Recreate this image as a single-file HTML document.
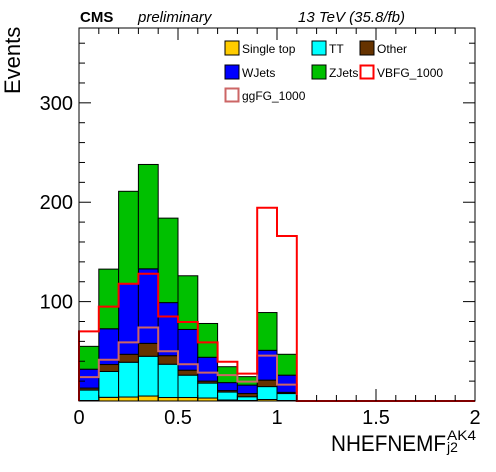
<!DOCTYPE html>
<html><head><meta charset="utf-8"><style>
html,body{margin:0;padding:0;background:#fff;}
svg{display:block;font-family:"Liberation Sans",Arial,sans-serif;}
</style></head><body>
<svg id="chart" width="496" height="472">
<g id="bars"></g>
<g id="lines"></g>
<rect x="79" y="28" width="396" height="373" fill="none" stroke="#000" stroke-width="1"/>
<g id="ticks"></g>
<text x="80" y="22" font-size="15" font-weight="bold">CMS</text>
<text x="138" y="22" font-size="15" font-style="italic">preliminary</text>
<text x="298" y="22" font-size="15" font-style="italic">13 TeV (35.8/fb)</text>
<text transform="translate(20,94) rotate(-90)" font-size="22">Events</text>
<g>
<text x="331" y="451" font-size="22" textLength="115" lengthAdjust="spacingAndGlyphs">NHEFNEMF</text>
<text x="447" y="440" font-size="14" textLength="29" lengthAdjust="spacingAndGlyphs">AK4</text>
<text x="447" y="452" font-size="14">j2</text>
</g>
<g id="legend"></g>
</svg>
<script>
const binEdges = [0,0.1,0.2,0.3,0.4,0.5,0.6,0.7,0.8,0.9,1.0,1.1,1.2,1.3,1.4,1.5,1.6,1.7,1.8,1.9,2.0];
const singleTop = [0.5,3.7,4,5,3.5,3.5,3,1,0.5,1.5,0.5,0,0,0,0,0,0,0,0,0];
const ttbar = [10.5,26,35,40,33.5,22.5,15,8,3.8,13,7,0,0,0,0,0,0,0,0,0];
const other = [2,7,8,13,8.6,5,2,1.5,3.2,6.5,1.2,0,0,0,0,0,0,0,0,0];
const wjets = [19,36,71,75,53.4,41,24,8,8.5,30,17.3,0,0,0,0,0,0,0,0,0];
const zjets = [23,60,93,105,85,54,34,16,8.5,38,21,0,0,0,0,0,0,0,0,0];
const vbf = [70,95,118,128,85,79.5,59,39.5,27.5,194.5,166,0,0,0,0,0,0,0,0,0];
const ggf = [24,41.5,59,74,50,37,28.5,26,19.5,45.6,16.5,0,0,0,0,0,0,0,0,0];
const yTicks = [100,200,300];
const xTicks = [0,0.5,1,1.5,2];
const xTickLabels = ["0","0.5","1","1.5","2"];

const X0=79,X1=475,Y0=401,Y1=28,XMAX=2,YMAX=375.3;
const sx=v=>X0+(X1-X0)*v/XMAX;
const sy=v=>Y0-(Y0-Y1)*v/YMAX;
const NS="http://www.w3.org/2000/svg";
function mk(tag,attrs,parent){const e=document.createElementNS(NS,tag);for(const k in attrs)e.setAttribute(k,attrs[k]);parent.appendChild(e);return e;}

const series=[["single-top",singleTop,"#ffcc00"],["ttbar",ttbar,"#00ffff"],["other",other,"#663300"],["wjets",wjets,"#0000ff"],["zjets",zjets,"#00c000"]];
const bars=document.getElementById('bars');
const cum=new Array(20).fill(0);
series.forEach(([name,vals,col])=>{
  for(let i=0;i<20;i++){
    if(vals[i]<=0)continue;
    const b=cum[i],t=cum[i]+vals[i];
    const r=mk('rect',{x:sx(binEdges[i]),y:sy(t),width:sx(binEdges[i+1])-sx(binEdges[i]),height:sy(b)-sy(t),fill:col,stroke:'#000','stroke-width':1},bars);
    
    
    cum[i]=t;
  }
});
function step(vals,col,name){
  let d='M'+sx(0)+','+sy(0);
  for(let i=0;i<20;i++){d+=' L'+sx(binEdges[i])+','+sy(vals[i])+' L'+sx(binEdges[i+1])+','+sy(vals[i]);}
  const p=mk('path',{d:d,fill:'none',stroke:col,'stroke-width':2},document.getElementById('lines'));
  
  
}
step(ggf,'#cc6666','ggfg-1000-line');
step(vbf,'#ff0000','vbfg-1000-line');

const tk=document.getElementById('ticks');
for(let v=0;v<=YMAX;v+=20){
  const major=v%100===0;const L=major?12:6;const y=sy(v);
  mk('line',{x1:X0,x2:X0+L,y1:y,y2:y,stroke:'#000'},tk);
  mk('line',{x1:X1,x2:X1-L,y1:y,y2:y,stroke:'#000'},tk);
}
for(let i=0;i<=20;i++){
  const major=i%5===0;const L=major?12:6;const x=sx(i*0.1);
  mk('line',{x1:x,x2:x,y1:Y0,y2:Y0-L,stroke:'#000'},tk);
  mk('line',{x1:x,x2:x,y1:Y1,y2:Y1+L,stroke:'#000'},tk);
}
yTicks.forEach(v=>{
  const t=mk('text',{x:X0-6,y:sy(v)+7,'font-size':20,'text-anchor':'end'},tk);t.textContent=v;
  
  
});
xTicks.forEach((v,i)=>{
  const t=mk('text',{x:sx(v),y:424,'font-size':20,'text-anchor':'middle'},tk);t.textContent=xTickLabels[i];
  
  
});

const lg=document.getElementById('legend');
const entries=[["Single top","#ffcc00",true,225,41],["TT","#00ffff",true,312,41],["Other","#663300",true,360,41],
["WJets","#0000ff",true,225,65],["ZJets","#00c000",true,312,65],["VBFG_1000","#ff0000",false,360,65],["ggFG_1000","#cc6666",false,225,88]];
entries.forEach(([lab,col,fill,x,y])=>{
  const g=mk('g',{},lg);
  
  
  if(fill) mk('rect',{x:x,y:y,width:14,height:14,fill:col,stroke:'#000','stroke-width':1},g);
  else mk('rect',{x:x+0.5,y:y+0.5,width:13,height:13,fill:'none',stroke:col,'stroke-width':2},g);
  const t=mk('text',{x:x+17,y:y+12,'font-size':12},g);t.textContent=lab;
});
</script>
</body></html>
